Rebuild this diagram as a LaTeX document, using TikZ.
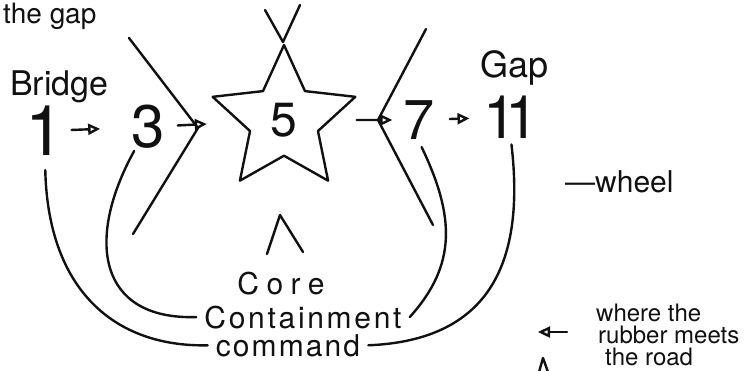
\documentclass[tikz,border=0pt]{standalone}
\usepackage{fontspec}
\setmainfont{TeX Gyre Heros}
\usetikzlibrary{arrows.meta,positioning,shapes.geometric}
\definecolor{ink}{HTML}{111111}

\begin{document}
\begin{tikzpicture}[x=1pt,y=-1pt,>={Triangle[open,length=12pt,width=11pt]},
 pen/.style={draw=ink,line width=2.4pt,line cap=round,line join=round},
 num/.style={inner sep=2pt,text=ink,font=\fontsize{60}{60}\selectfont},
 lbl/.style={inner sep=0pt,anchor=base west,text=ink,font=\fontsize{34}{34}\selectfont},
 say/.style={inner sep=8pt,anchor=base,text=ink,font=\fontsize{30}{30}\selectfont},
 note/.style={inner sep=0pt,anchor=base west,text=ink,font=\fontsize{24}{24}\selectfont}]
\fill[white](0,0)rectangle(752,370);
\useasboundingbox(0,0)rectangle(752,370);
\clip(0,0)rectangle(752,370);
% chain of numbers
\node[num,font=\fontsize{70}{70}\selectfont](n1)at(45,131){1};
\node[num](n3)at(148,127){3};
\node[pen,star,star points=5,star point ratio=2.1,minimum size=150pt,inner sep=0pt,text=ink,font=\fontsize{48}{48}\selectfont](n5)at(284,120){5};
\node[num,font=\fontsize{56}{56}\selectfont](n7)at(419,120){7};
\node[num,font=\fontsize{60}{60}\selectfont\addfontfeature{LetterSpace=-20}](n11)at(511,117){11};
\draw[pen,->,shorten <=5pt,shorten >=29pt](n1)--(n3);
\draw[pen,->,shorten <=11pt,shorten >=32pt](n3)--(n5);
\draw[pen,->,shorten <=25pt,shorten >=9pt](n5)--(n7);
\draw[pen,->,shorten <=13pt,shorten >=12pt](n7)--(n11);
% labels
\node[lbl,font=\fontsize{28}{28}\selectfont](gapnote)at(3,23){the gap};
\node[lbl](bridge)at(10,95){Bridge};
\node[lbl,font=\fontsize{36}{36}\selectfont](gap)at(480,77){Gap};
\node[lbl,font=\fontsize{30}{30}\selectfont](wheel)at(565,192){—wheel};
\node[say,font=\fontsize{30}{30}\selectfont\addfontfeature{LetterSpace=25}](core)at(281,294){Core};
\node[say,font=\fontsize{30}{30}\selectfont\addfontfeature{LetterSpace=9}](cont)at(303,328){Containment};
\node[say,font=\fontsize{30}{30}\selectfont\addfontfeature{LetterSpace=7}](cmd)at(288,356){command};
\node[note](road1)at(596,321){where the};
\node[note](road2)at(598,343){rubber meets};
\node[note](road3)at(605,365){the road};
% brackets round the star
\draw[pen](129,38)--(198,128)--(133,234);
\draw[pen](426,29)--(378,120)--(433,225);
\draw[pen](265,10)--(283,42)--(300,5);
\draw[pen](267,254)--(280,215)--(303,252);
% wheel curves
\draw[pen,shorten <=12pt](n1.south)..controls +(3,132) and +(-93,2)..(cmd.west);
\draw[pen](n3.240)..controls +(-49,89) and +(-98,3)..(cont.west);
\draw[pen,shorten <=6pt](n7.south)..controls +(36,75) and +(47,-52)..(cont.east);
\draw[pen,shorten <=4pt](n11.south)..controls +(14,120) and +(123,-5)..(cmd.east);
% legend
\draw[pen,->](567,332)--(538,332);
\draw[pen](539,372)--(543,358)--(548,372);
\end{tikzpicture}
\end{document}
